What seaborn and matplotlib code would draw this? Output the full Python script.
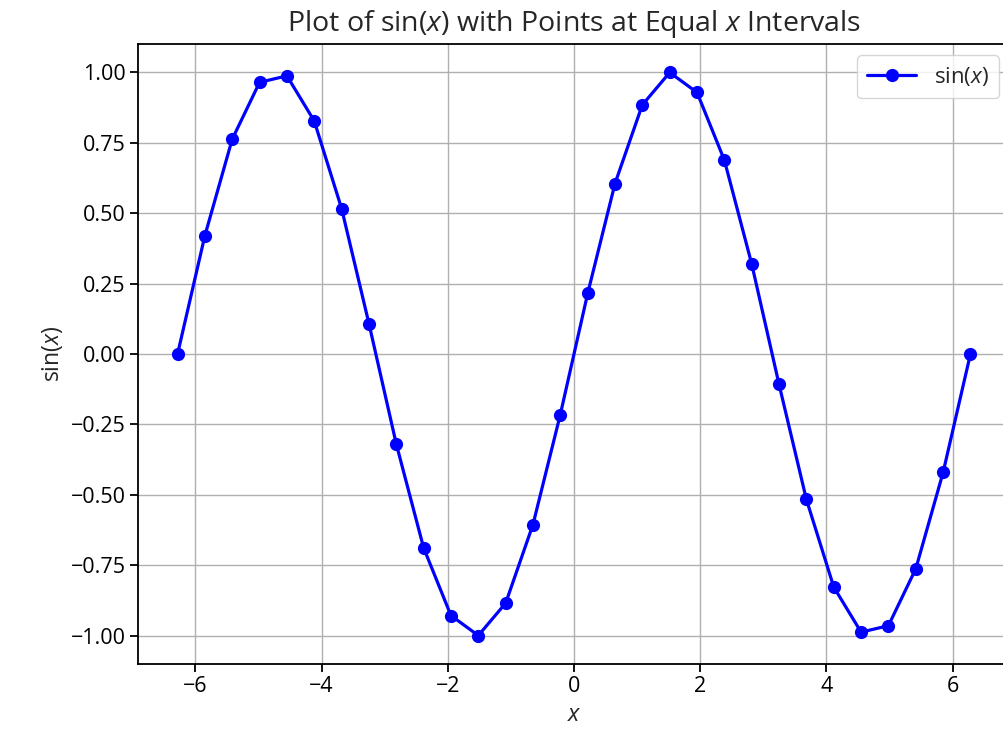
import numpy as np
import pandas as pd
import matplotlib
matplotlib.use("Agg")
import matplotlib.pyplot as plt
import seaborn as sns

# Data (30 points, equally spaced in x)
x_values = [-6.283, -5.850, -5.417, -4.983, -4.550, -4.117, -3.683, -3.250,
            -2.817, -2.383, -1.950, -1.517, -1.083, -0.650, -0.217,
            0.217, 0.650, 1.083, 1.517, 1.950, 2.383, 2.817, 3.250,
            3.683, 4.117, 4.550, 4.983, 5.417, 5.850, 6.283]
y_values = [0.000, 0.420, 0.762, 0.964, 0.987, 0.827, 0.516, 0.108,
            -0.319, -0.688, -0.928, -0.999, -0.884, -0.605, -0.215,
            0.215, 0.605, 0.884, 0.999, 0.928, 0.688, 0.319, -0.108,
            -0.516, -0.827, -0.987, -0.964, -0.762, -0.420, 0.000]
x_ticks = [-6, -4, -2, 0, 2, 4, 6]
y_ticks = [-1.00, -0.75, -0.50, -0.25, 0.00, 0.25, 0.50, 0.75, 1.00]

sns.set_theme(style="ticks")
plt.rcParams['font.family'] = ['Open Sans', 'DejaVu Sans']
plt.rcParams['mathtext.fontset'] = 'custom'
plt.rcParams['mathtext.rm'] = 'Open Sans'
plt.rcParams['mathtext.it'] = 'Open Sans:italic'
plt.rcParams['mathtext.bf'] = 'Open Sans:bold'

df = pd.DataFrame({"x": x_values, "y": y_values})

fig = plt.figure(figsize=(10.04, 7.33), dpi=100)
ax = fig.add_axes([138/1004, 69/733, 872/1004, 620/733])

sns.lineplot(data=df, x="x", y="y", ax=ax, color="blue", marker="o",
             markersize=9.5, linewidth=2.3, markeredgewidth=0,
             label=r"$\sin(x)$", estimator=None, sort=False)

ax.set_xlim(-6.91, 6.91)
ax.set_ylim(-1.1, 1.1)
ax.set_xticks(x_ticks)
ax.set_yticks(y_ticks)
ax.set_yticklabels([f"{v:.2f}".replace("-", "\u2212") for v in y_ticks])
ax.set_xticklabels([str(v).replace("-", "\u2212") for v in x_ticks])
ax.tick_params(labelsize=15.5, length=5.5, width=1.3, colors="black")
ax.grid(True, color="#b0b0b0", linewidth=1.0)
for s in ax.spines.values():
    s.set_color("black")
    s.set_linewidth(1.3)
ax.spines["right"].set_visible(False)

ax.set_title(r"Plot of $\sin(x)$ with Points at Equal $x$ Intervals",
             fontsize=20.5, pad=9)
ax.set_xlabel(r"$x$", fontsize=17, labelpad=4)
ax.set_ylabel(r"$\sin(x)$", fontsize=16.5)
ax.legend(loc="upper right", fontsize=16, framealpha=0.8,
          handlelength=2.2, borderpad=0.45)

fig.savefig("out.png", dpi=100)
